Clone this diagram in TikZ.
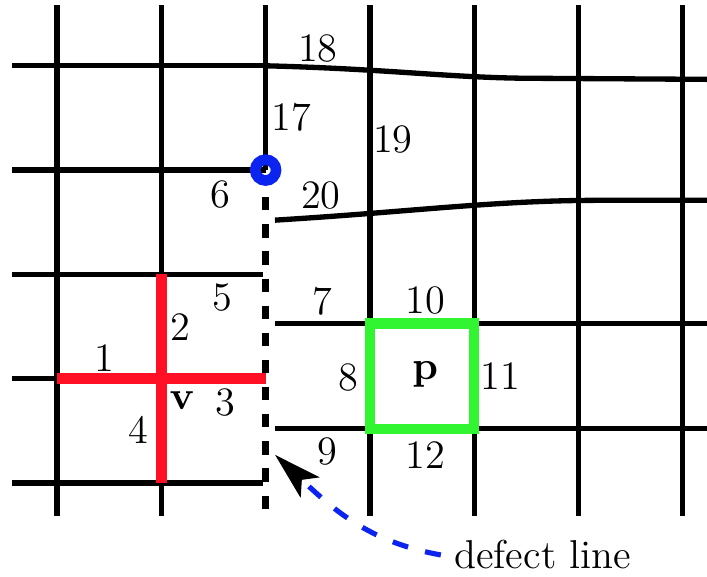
\documentclass[tikz,border=0pt]{standalone}
\usetikzlibrary{arrows.meta}
\definecolor{starred}{RGB}{255,16,36}
\definecolor{plaqgreen}{RGB}{48,245,48}
\definecolor{ringblue}{RGB}{12,36,240}
\tikzset{
  every node/.style={
    font=\fontsize{11}{13}\selectfont
  },
  lattice/.style={
    black,
    line width=1.45pt
  },
  cutline/.style={
    black,
    line width=1.9pt,
    dash pattern=on 3.6pt off 3.8pt
  },
  vstar/.style={starred,line width=3pt},
  plaq/.style={plaqgreen,line width=2.8pt},
  ring/.style={ringblue,line width=2.9pt},
  pointer/.style={
    ringblue,
    line width=1.4pt,
    dash pattern=on 4.4pt off 4.8pt,
    -{Stealth[black,length=13pt,width=7.5pt,inset=3pt]}
  }
}

\begin{document}
\begin{tikzpicture}[x=1cm,y=1cm]
    \useasboundingbox (-0.547,-0.901) rectangle (6.232,4.631);

    % 縦線
    \foreach \i in {0,1,3,4,5,6}
        \draw[lattice] (\i,-0.316) -- (\i,4.583);
    \draw[lattice] (2,3) -- (2,4.583);

    % 欠陥線
    \draw[cutline] (2,2.74) -- (2,-0.26);

    % 左側の横線
    \foreach \j in {0,2}
        \draw[lattice] (-0.43,\j) -- (1.97,\j);
    \draw[lattice] (-0.43,1) -- (0,1);
    \draw[lattice] (-0.43,3) -- (2,3);
    \draw[lattice] (-0.43,4) -- (2,4);

    % 右側の横線
    \draw[lattice] (2,4) .. controls (3.2,3.97) and (3.8,3.88) .. (4.6,3.88)
        -- (6.24,3.87);
    \draw[lattice] (2.09,2.52) .. controls (3.4,2.6) and (4.2,2.71) .. (5.2,2.71)
        -- (6.24,2.71);
    \foreach \j in {0.52,1.53}
        \draw[lattice] (2.09,\j) -- (6.24,\j);

    % 頂点 v
    \draw[vstar] (0,1) -- (2,1);
    \draw[vstar] (1,0) -- (1,2);

    % 面 p
    \draw[plaq] (3,0.52) rectangle (4,1.53);

    % 端点
    \draw[ring] (2,3) circle (0.1);

    % 番号
    \node (e1) at (0.45,1.20) {1};
    \node (e2) at (1.18,1.49) {2};
    \node (e3) at (1.61,0.77) {3};
    \node (e4) at (0.78,0.51) {4};
    \node (e5) at (1.59,1.78) {5};
    \node (e6) at (1.57,2.77) {6};
    \node (e7) at (2.54,1.74) {7};
    \node (e8) at (2.79,1.01) {8};
    \node (e9) at (2.59,0.30) {9};
    \node (e10) at (3.53,1.75) {10};
    \node (e11) at (4.25,1.02) {11};
    \node (e12) at (3.53,0.27) {12};
    \node (e17) at (2.25,3.51) {17};
    \node (e18) at (2.50,4.17) {18};
    \node (e19) at (3.22,3.29) {19};
    \node (e20) at (2.53,2.76) {20};
    \node (v) at (1.20,0.79) {$\mathbf{v}$};
    \node (p) at (3.53,1.04) {$\mathbf{p}$};

    % 注釈
    \node[anchor=west,inner sep=3.5pt] (defect) at (3.68,-0.69) {defect line};
    \coordinate (tip) at (2.09,0.27);
    \draw[pointer] (defect.west) to[out=170,in=-43] (tip);
\end{tikzpicture}
\end{document}
